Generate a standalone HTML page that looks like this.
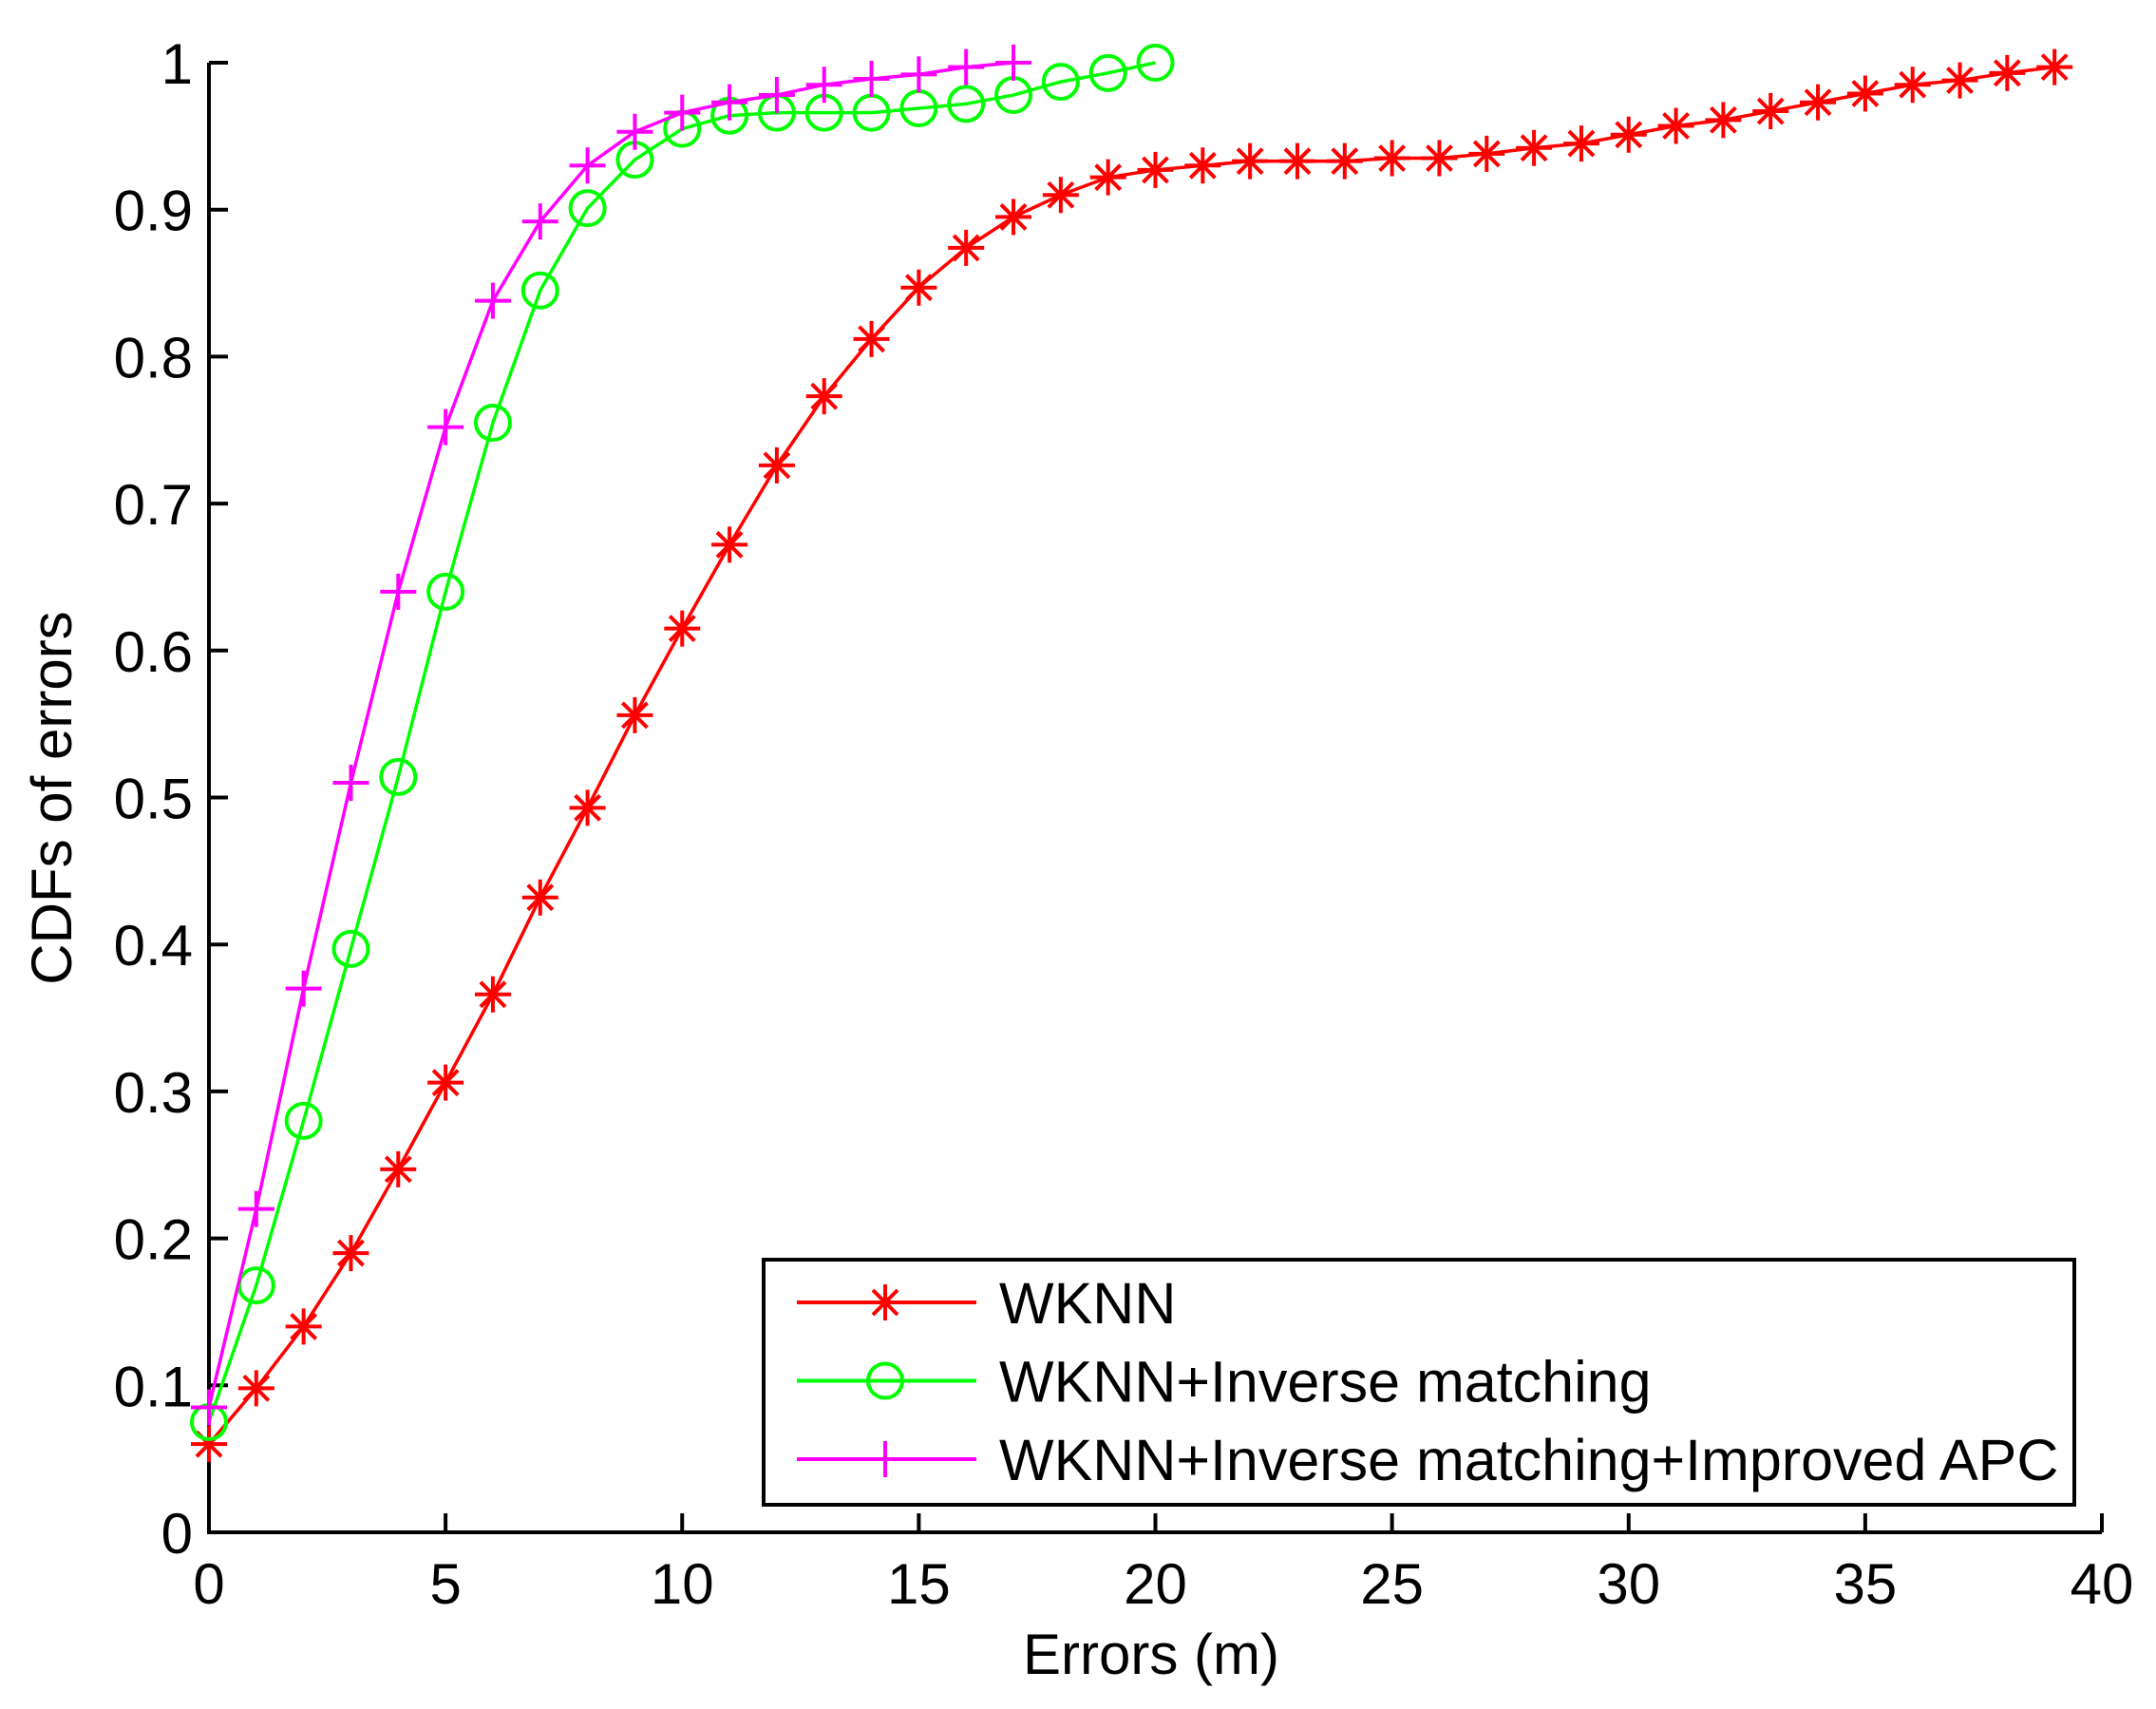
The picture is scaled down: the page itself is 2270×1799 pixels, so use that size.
<!DOCTYPE html>
<html><head><meta charset="utf-8"><style>
html,body{margin:0;padding:0;background:#fff}
svg text{font-family:"Liberation Sans",Arial,sans-serif;fill:#000}
</style></head><body>
<svg id="chart" width="2270" height="1794" xmlns="http://www.w3.org/2000/svg">
<g id="axes"></g>
<g id="series"></g>
<g id="legend"></g>
</svg>
<script>
const xTicks=[0,5,10,15,20,25,30,35,40];
const yTicks=[0,0.1,0.2,0.3,0.4,0.5,0.6,0.7,0.8,0.9,1];
const yTickLabels=["0","0.1","0.2","0.3","0.4","0.5","0.6","0.7","0.8","0.9","1"];
const wknn=[0.06,0.098,0.14,0.19,0.247,0.306,0.366,0.432,0.493,0.556,0.615,0.672,0.726,0.773,0.812,0.847,0.874,0.895,0.91,0.922,0.927,0.93,0.933,0.933,0.933,0.935,0.935,0.938,0.942,0.945,0.951,0.957,0.961,0.967,0.973,0.979,0.985,0.988,0.993,0.997];
const inverse=[0.075,0.168,0.28,0.397,0.514,0.64,0.755,0.845,0.901,0.934,0.955,0.964,0.966,0.966,0.966,0.969,0.972,0.978,0.987,0.993,1.0];
const improved=[0.085,0.22,0.37,0.51,0.64,0.752,0.838,0.892,0.93,0.953,0.966,0.973,0.978,0.985,0.989,0.992,0.997,1.0];
const seriesNames=["WKNN","WKNN+Inverse matching","WKNN+Inverse matching+Improved APC"];

const L=220,R=2213,T=66,B=1613;
const sx=v=>L+v*(R-L)/40;
const sy=v=>B-v*(B-T);
const NS="http://www.w3.org/2000/svg";
function mk(tag,attrs,parent){const e=document.createElementNS(NS,tag);for(const k in attrs)e.setAttribute(k,attrs[k]);parent.appendChild(e);return e;}
const axes=document.getElementById('axes'),ser=document.getElementById('series'),leg=document.getElementById('legend');

let frame=mk('path',{d:`M${L},${T} L${L},${B} L${R},${B}`,fill:'none',stroke:'#000','stroke-width':4},axes);


xTicks.forEach(v=>{
 const x=sx(v);
 let t=mk('line',{x1:x,x2:x,y1:B,y2:B-20,stroke:'#000','stroke-width':4},axes);
 
 
 let l=mk('text',{x:x,y:1688,'font-size':60,'text-anchor':'middle'},axes);l.textContent=v;
 
 
});
yTicks.forEach((v,i)=>{
 const y=sy(v);
 let t=mk('line',{x1:L,x2:L+20,y1:y,y2:y,stroke:'#000','stroke-width':4},axes);
 
 
 let l=mk('text',{x:203,y:y+22,'font-size':60,'text-anchor':'end'},axes);l.textContent=yTickLabels[i];
 
 
});
let xt=mk('text',{x:1212,y:1762,'font-size':60,'text-anchor':'middle'},axes);xt.textContent='Errors (m)';


let yt=mk('text',{x:0,y:0,'font-size':60,'text-anchor':'middle',transform:'translate(75,840) rotate(-90)'},axes);yt.textContent='CDFs of errors';



function marker(type,x,y,color,g){
 const s=19;let e;
 if(type==='star'){
  e=mk('path',{d:`M${x-s},${y} L${x+s},${y} M${x},${y-s} L${x},${y+s} M${x-13},${y-13} L${x+13},${y+13} M${x-13},${y+13} L${x+13},${y-13}`,stroke:color,'stroke-width':4,fill:'none'},g);
 }else if(type==='circle'){
  e=mk('circle',{cx:x,cy:y,r:18,stroke:color,'stroke-width':4,fill:'none'},g);
 }else{
  e=mk('path',{d:`M${x-s},${y} L${x+s},${y} M${x},${y-s} L${x},${y+s}`,stroke:color,'stroke-width':4,fill:'none'},g);
 }
 return e;
}
const defs=[[wknn,'#ff0000','star','wknn'],[inverse,'#00ff00','circle','inverse-matching'],[improved,'#ff00ff','plus','improved-apc']];
const bg=mk('rect',{x:804,y:1326,width:1380,height:258,fill:'#fff'},leg);


defs.forEach(([data,color,type,name],si)=>{
 const g=mk('g',{},ser);
 
 
 const pts=data.map((v,i)=>sx(i)+','+sy(v)).join(' ');
 let pl=mk('polyline',{points:pts,fill:'none',stroke:color,'stroke-width':3.5},g);
 
 
 data.forEach((v,i)=>{
  const m=marker(type,sx(i),sy(v),color,g);
  
  
 });
 const ly=1371+si*82.5;
 const lg=mk('g',{},leg);
 
 
 mk('line',{x1:839,x2:1028,y1:ly,y2:ly,stroke:color,'stroke-width':4},lg);
 marker(type,932,ly,color,lg);
 const tx=mk('text',{x:1052,y:ly+22,'font-size':61},lg);tx.textContent=seriesNames[si];
});
let box=mk('rect',{x:804,y:1326,width:1380,height:258,fill:'none',stroke:'#000','stroke-width':4},leg);


</script>
</body></html>
